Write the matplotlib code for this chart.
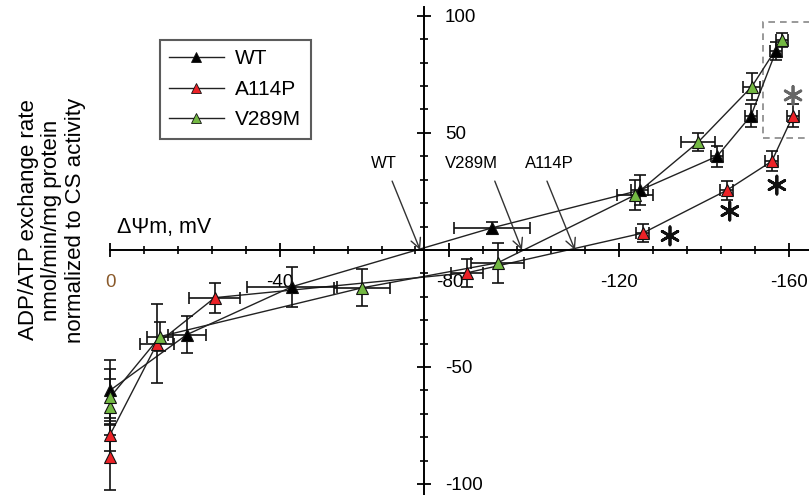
import matplotlib
matplotlib.use("Agg")
import matplotlib.pyplot as plt
from matplotlib.ticker import MultipleLocator, FixedLocator
from matplotlib.lines import Line2D
from matplotlib.patches import Rectangle
import numpy as np

plt.rcParams['font.family'] = ['Liberation Sans', 'DejaVu Sans']

# ---------------- data ----------------
wt_x = [0, -18.1, -42.9, -90.0, -124.9, -143.1, -151.1, -157.0]
wt_y = [-60, -36.2, -15.7, 9.4, 25.5, 40.0, 57.4, 85.0]
wt_xerr = [0, 4.5, 10.6, 9.0, 2.0, 1.5, 1.5, 1.5]
wt_yerr = [13, 8, 8.5, 2.5, 6.5, 4.5, 5, 4]

a114p_x = [0, 0, -11.1, -24.7, -84.1, -125.6, -145.4, -156.0, -161.0]
a114p_y = [-88.5, -79, -40, -20.4, -9.8, 7.2, 25.5, 37.9, 57.4]
a114p_xerr = [0, 0, 4, 6, 3.8, 1.5, 1.5, 1.5, 1.5]
a114p_yerr = [14, 7, 17, 6.4, 6, 4, 4, 4.3, 5]

v289m_x = [0, 0, -11.8, -59.4, -91.4, -123.7, -138.6, -151.3, -158.4]
v289m_y = [-67, -63, -37, -16.2, -5.5, 23.4, 46, 69.8, 89.8]
v289m_xerr = [0, 0, 3, 6.5, 6.3, 4.3, 3.9, 2, 1.5]
v289m_yerr = [12, 12, 6, 7.9, 8.5, 6.4, 3.8, 5.7, 3]

series_names = ['WT', 'A114P', 'V289M']

xticks = [0, -40, -80, -120, -160]
xticklabels = ['0', '-40', '-80', '-120', '-160']
yticks = [-100, -50, 50, 100]
yticklabels = ['-100', '-50', '50', '100']

# arrows pointing at the x-intercepts
arrow_labels = ['WT', 'V289M', 'A114P']
arrow_text_x = [-64.6, -85.3, -103.5]
arrow_start_x = [-66.5, -90.7, -103.0]
arrow_end_x = [-73.1, -97.1, -109.6]

# significance asterisks
star_x = [-132.0, -146.1, -157.2, -161.0]
star_y = [6.0, 16.6, 27.7, 66.0]

# ---------------- figure ----------------
W, H = 809, 495
fig = plt.figure(figsize=(W / 100, H / 100), dpi=100)
ax = fig.add_axes([110 / W, 0.0, 700 / W, 0.985])
ax.set_xlim(0, -165)
ax.set_ylim(-104.7, 103.6)

colors = {'WT': 'black', 'A114P': '#ec2227', 'V289M': '#74b943'}
data = {
    'WT': (wt_x, wt_y, wt_xerr, wt_yerr),
    'A114P': (a114p_x, a114p_y, a114p_xerr, a114p_yerr),
    'V289M': (v289m_x, v289m_y, v289m_xerr, v289m_yerr),
}

handles = []
for name in series_names:
    x, y, xe, ye = (np.array(v, dtype=float) for v in data[name])
    ax.plot(x, y, color='#222222', lw=1.0, zorder=2, clip_on=False)
    ax.errorbar(x, y, yerr=ye, fmt='none', ecolor='#111111', elinewidth=1.2,
                capsize=4.5, capthick=1.2, zorder=3, clip_on=False)
    m = xe > 0
    ax.errorbar(x[m], y[m], xerr=xe[m], fmt='none', ecolor='#111111', elinewidth=1.2,
                capsize=4.5, capthick=1.2, zorder=3, clip_on=False)
    ax.plot(x, y, ls='none', marker='^', ms=8.5, mfc=colors[name], mec='#111111',
            mew=0.8, zorder=4, clip_on=False)
    handles.append(Line2D([], [], color='#222222', lw=1.0, marker='^', ms=6.5,
                          mfc=colors[name], mec='#111111', mew=0.6, label=name))

for c in ax.get_children():
    try:
        c.set_clip_on(False)
    except Exception:
        pass

# spines through the data origin region
for s in ['top', 'right']:
    ax.spines[s].set_visible(False)
ax.spines['bottom'].set_position(('data', 0))
ax.spines['left'].set_position(('data', -74))
ax.spines['bottom'].set_linewidth(1.4)
ax.spines['left'].set_linewidth(1.4)

ax.xaxis.set_major_locator(FixedLocator(xticks))
ax.set_xticklabels(xticklabels)
ax.xaxis.set_minor_locator(MultipleLocator(8))
ax.yaxis.set_major_locator(FixedLocator(yticks))
ax.set_yticklabels(yticklabels)
ax.yaxis.set_minor_locator(MultipleLocator(10))

ax.tick_params(axis='x', which='major', direction='inout', length=10, width=1.3,
               labelsize=13.5, pad=12)
ax.tick_params(axis='x', which='minor', direction='inout', length=6, width=1.2)
ax.tick_params(axis='y', which='major', direction='inout', length=10, width=1.3,
               labelsize=13.5, pad=-20)
ax.tick_params(axis='y', which='minor', direction='inout', length=6, width=1.2)
for lbl in ax.get_yticklabels():
    lbl.set_ha('left')
ax.get_xticklabels()[0].set_color('#8a5a2b')

# axis titles
ax.text(-1.6, 9.4, '\u0394\u03a8m, mV', fontsize=15.5, ha='left', va='center')
fig.text(52 / W, 1 - 220 / H,
         'ADP/ATP exchange rate\nnmol/min/mg protein\nnormalized to CS activity',
         rotation=90, ha='center', va='center', multialignment='center',
         fontsize=16, linespacing=1.15)

# arrows to x-intercepts
for lab, tx, sx, ex in zip(arrow_labels, arrow_text_x, arrow_start_x, arrow_end_x):
    ax.text(tx, 37, lab, fontsize=12, ha='center', va='center')
    ax.annotate('', xy=(ex, 0), xytext=(sx, 29.4),
                arrowprops=dict(arrowstyle='->', color='#333333', lw=1.0,
                                mutation_scale=18, shrinkA=0, shrinkB=0))

# asterisks
star_colors = ['#111111', '#111111', '#111111', '#666666']
ax.scatter(star_x, star_y, marker=(6, 2, 0), s=170, c=star_colors,
           linewidths=2.0, zorder=5, clip_on=False)

# dashed box around the top-right points
ax.add_patch(Rectangle((-153.9, 47.7), -14, 49.7, fill=False, ls=(0, (4, 3)),
                       ec='#888888', lw=1.2, clip_on=False))

leg = ax.legend(handles=handles, loc='upper left',
                bbox_to_anchor=(160 / W, 1 - 40 / H), bbox_transform=fig.transFigure,
                frameon=True, fancybox=False, fontsize=15, handlelength=2.6,
                handletextpad=0.55, borderpad=0.45, labelspacing=0.55,
                borderaxespad=0)
leg.get_frame().set_edgecolor('#333333')
leg.get_frame().set_linewidth(1.5)

fig.savefig('out.png', dpi=100)
